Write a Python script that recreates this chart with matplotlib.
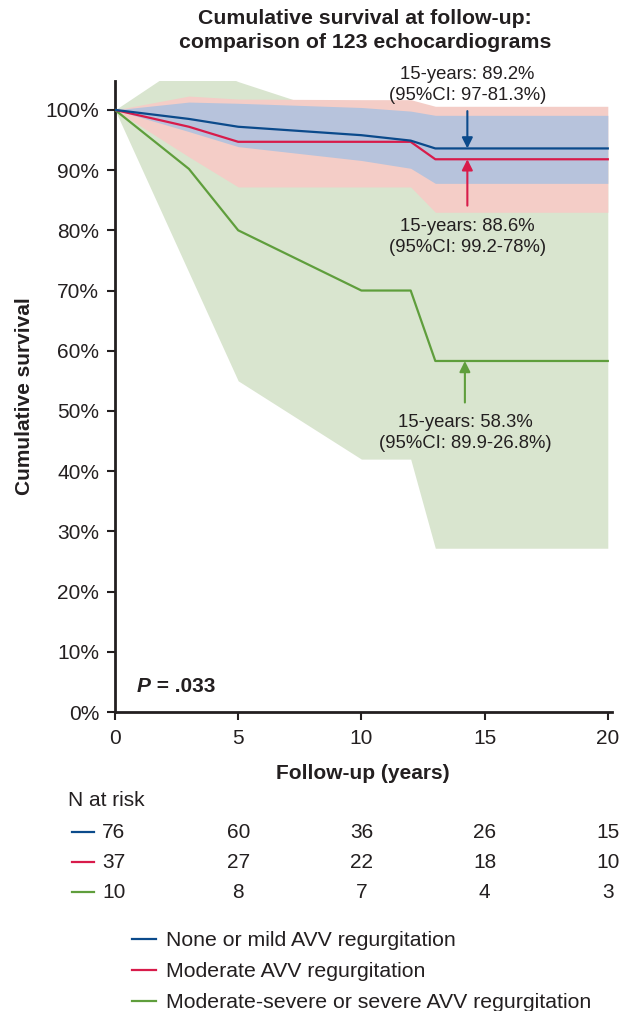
import matplotlib
matplotlib.use("Agg")
import matplotlib.pyplot as plt
from matplotlib.lines import Line2D
import matplotlib.transforms as mtransforms

plt.rcParams['font.family'] = ['Liberation Sans', 'DejaVu Sans']

# knots of the survival curves (years) and values (%)
years = [0, 3, 5, 10, 12, 13, 20]

none_mild = [100, 98.5, 97.2, 95.8, 94.9, 93.6, 93.6]
none_mild_hi = [100, 101.3, 101.1, 100.4, 99.8, 99.1, 99.1]
none_mild_lo = [100, 96.4, 93.9, 91.6, 90.3, 87.8, 87.8]

moderate = [100, 97.2, 94.7, 94.7, 94.7, 91.8, 91.8]
moderate_hi = [100, 102.3, 101.8, 101.7, 101.7, 100.6, 100.6]
moderate_lo = [100, 92.2, 87.2, 87.2, 87.2, 83.0, 83.0]

severe = [100, 90.2, 80, 70, 70, 58.3, 58.3]
severe_hi = [100, 108.2, 104.7, 98, 98, 95, 95]
severe_lo = [100, 73, 55, 42, 42, 27.2, 27.2]

risk_years = [0, 5, 10, 15, 20]
risk_none_mild = [76, 60, 36, 26, 15]
risk_moderate = [37, 27, 22, 18, 10]
risk_severe = [10, 8, 7, 4, 3]

labels = ["None or mild AVV regurgitation",
          "Moderate AVV regurgitation",
          "Moderate-severe or severe AVV regurgitation"]

blue = '#0b4a8b'
red = '#d81b4a'
green = '#5f9e3c'
text_col = '#231f20'
fs = 15

W, H = 633, 1011
fig = plt.figure(figsize=(W / 100, H / 100), dpi=100)
ax_w = 611.5 - 115
ax = fig.add_axes([115 / W, 1 - 712 / H, ax_w / W, (712 - 81) / H])

# confidence bands
ax.fill_between(years, severe_lo, severe_hi, color='#d9e5cf', lw=0, zorder=1)
ax.fill_between(years, moderate_lo, moderate_hi, color='#f4cdc7', lw=0, zorder=2)
ax.fill_between(years, none_mild_lo, none_mild_hi, color='#b7c3dc', lw=0, zorder=3)

ax.plot(years, severe, color=green, lw=1.6, zorder=5)
ax.plot(years, moderate, color=red, lw=1.6, zorder=6)
ax.plot(years, none_mild, color=blue, lw=1.6, zorder=7)

ax.set_xlim(0, 20.15)
ax.set_ylim(0, 104.8)
ax.set_xticks([0, 5, 10, 15, 20])
ax.set_yticks(range(0, 101, 10))
ax.set_yticklabels([f"{v}%" for v in range(0, 101, 10)])
for s in ['top', 'right']:
    ax.spines[s].set_visible(False)
for s in ['left', 'bottom']:
    ax.spines[s].set_linewidth(2.0)
    ax.spines[s].set_color(text_col)
ax.tick_params(direction='out', length=5.5, width=1.5, colors=text_col,
               labelsize=fs)
ax.tick_params(axis='y', pad=6)
ax.tick_params(axis='x', pad=7)

ax.set_xlabel("Follow-up (years)", fontsize=fs, fontweight='bold',
              color=text_col, labelpad=11)
ax.set_ylabel("Cumulative survival", fontsize=fs, fontweight='bold',
              color=text_col)
ax.yaxis.set_label_coords((34 - 115) / ax_w, 0.5)

fig.text(365 / W, 1 - 30.5 / H,
         "Cumulative survival at follow-up:\ncomparison of 123 echocardiograms",
         ha='center', va='center', fontsize=15.3, fontweight='bold',
         color=text_col, linespacing=1.35)

# annotations at 15 years
ax.annotate("", xy=(14.3, 93.6), xytext=(14.3, 99.8),
            arrowprops=dict(arrowstyle='-|>', color=blue, lw=1.5,
                            mutation_scale=16, shrinkA=0, shrinkB=0), zorder=8)
ax.annotate("", xy=(14.3, 91.8), xytext=(14.3, 84.1),
            arrowprops=dict(arrowstyle='-|>', color=red, lw=1.5,
                            mutation_scale=16, shrinkA=0, shrinkB=0), zorder=8)
ax.annotate("", xy=(14.2, 58.3), xytext=(14.2, 51.4),
            arrowprops=dict(arrowstyle='-|>', color=green, lw=1.5,
                            mutation_scale=16, shrinkA=0, shrinkB=0), zorder=8)
ann_kw = dict(ha='center', va='center', fontsize=13.3, color=text_col,
              linespacing=1.32, zorder=9)
ax.text(14.3, 104.2, "15-years: 89.2%\n(95%CI: 97-81.3%)", **ann_kw)
ax.text(14.3, 78.95, "15-years: 88.6%\n(95%CI: 99.2-78%)", **ann_kw)
ax.text(14.2, 46.4, "15-years: 58.3%\n(95%CI: 89.9-26.8%)", **ann_kw)

# P value: italic P followed by bold text
fig.canvas.draw()
renderer = fig.canvas.get_renderer()
p_txt = ax.text(0.88, 4.2, "P", fontsize=fs, fontweight='bold',
                style='italic', va='center', color=text_col)
bb = p_txt.get_window_extent(renderer)
x_next = ax.transData.inverted().transform((bb.x1, 0))[0]
ax.text(x_next, 4.2, " = .033", fontsize=fs, fontweight='bold',
        va='center', color=text_col)

# N at risk table
blend = mtransforms.blended_transform_factory(ax.transData, fig.transFigure)
fig.text(68 / W, 1 - 801 / H, "N at risk", fontsize=fs, color=text_col,
         va='center', ha='left')
rows = [(risk_none_mild, blue, 832), (risk_moderate, red, 862),
        (risk_severe, green, 892)]
for counts, col, ypx in rows:
    yf = 1 - ypx / H
    fig.add_artist(Line2D([72 / W, 94 / W], [yf, yf], color=col, lw=1.6,
                          transform=fig.transFigure))
    for yr, n in zip(risk_years, counts):
        ax.text(yr + (0.0 if yr else -0.05), yf, str(n), transform=blend,
                ha='center', va='center', fontsize=fs, color=text_col)

handles = [Line2D([], [], color=c, lw=1.6) for c in (blue, red, green)]
fig.legend(handles, labels, loc='upper left',
           bbox_to_anchor=(132 / W, 1 - 931 / H), frameon=False,
           fontsize=15.3, handlelength=1.15, handletextpad=0.45,
           labelspacing=0.57, borderaxespad=0, borderpad=0,
           labelcolor=text_col)

fig.savefig("out.png", dpi=100)
